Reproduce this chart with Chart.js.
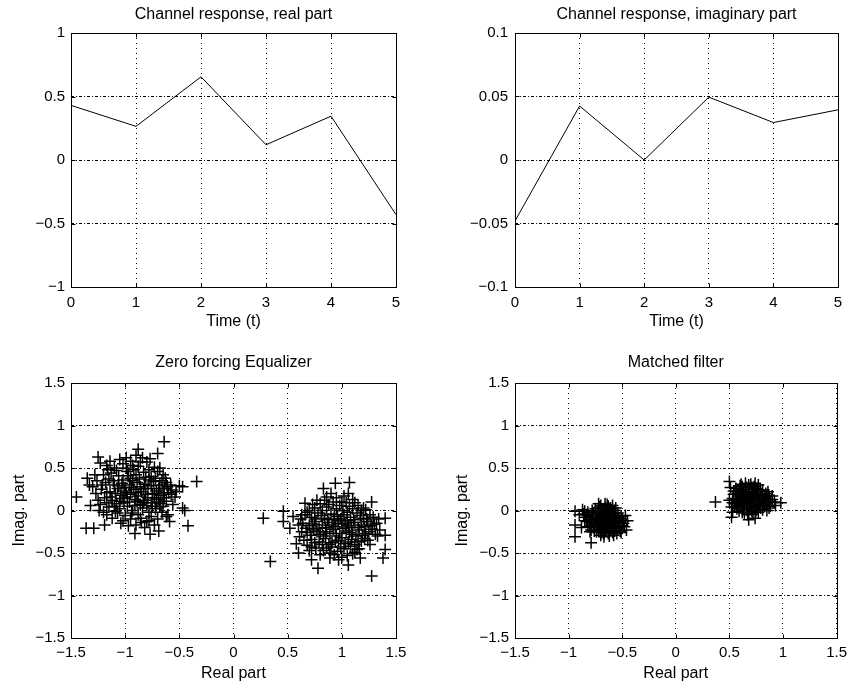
<!DOCTYPE html>
<html><head><meta charset="utf-8">
<script src="https://cdn.jsdelivr.net/npm/chart.js@4.4.1/dist/chart.umd.min.js"></script>
<style>
html,body{margin:0;padding:0;background:#fff;}
#wrap{position:relative;width:853px;height:687px;overflow:hidden;background:#fff;}
canvas{position:absolute;}
</style></head><body>
<div id="wrap">
<canvas id="c1" width="420" height="340" style="left:0px;top:0px"></canvas>
<canvas id="c2" width="433" height="340" style="left:420px;top:0px"></canvas>
<canvas id="c3" width="420" height="347" style="left:0px;top:340px"></canvas>
<canvas id="c4" width="433" height="347" style="left:420px;top:340px"></canvas>
</div>
<script>
// ---------- data ----------
const timeSteps = [0, 1, 2, 3, 4, 5];
const realPart = [0.43, 0.265, 0.655, 0.12, 0.345, -0.43];
const imagPart = [-0.048, 0.0425, 0.0, 0.0495, 0.0295, 0.0395];

const timeTicks = [0, 1, 2, 3, 4, 5];
const realTicks = [-1, -0.5, 0, 0.5, 1];
const imagTicks = [-0.1, -0.05, 0, 0.05, 0.1];
const constTicks = [-1.5, -1, -0.5, 0, 0.5, 1, 1.5];

const titles = ["Channel response, real part", "Channel response, imaginary part", "Zero forcing Equalizer", "Matched filter"];

// Zero forcing equalizer output, [real, imag]
const zfLeft = [
 [-1.02,0.55],[-0.95,0.58],[-0.88,0.52],[-1.10,0.50],[-0.80,0.57],[-1.17,0.53],[-0.92,0.48],[-0.73,0.51],[-1.05,0.60],[-0.84,0.62],[-0.99,0.50],
 [-1.13,0.44],[-1.06,0.41],[-0.98,0.46],[-0.90,0.42],[-0.83,0.45],[-0.76,0.40],[-0.70,0.46],[-1.20,0.42],[-0.95,0.38],[-0.65,0.42],[-1.02,0.36],[-0.87,0.37],
 [-1.18,0.33],[-1.10,0.30],[-1.03,0.32],[-0.96,0.30],[-0.89,0.33],[-0.82,0.31],[-0.74,0.34],[-0.68,0.30],[-0.62,0.33],[-1.26,0.35],[-1.15,0.37],[-0.78,0.36],[-0.93,0.35],[-1.00,0.27],[-0.86,0.28],
 [-1.22,0.25],[-1.14,0.22],[-1.07,0.26],[-0.99,0.21],[-0.92,0.25],[-0.85,0.22],[-0.79,0.26],[-0.71,0.23],[-0.64,0.26],[-0.60,0.21],[-1.30,0.28],[-0.95,0.19],[-1.04,0.18],[-0.88,0.17],[-0.75,0.19],[-0.67,0.18],
 [-1.19,0.15],[-1.12,0.12],[-1.02,0.14],[-0.96,0.10],[-0.91,0.13],[-0.82,0.12],[-0.76,0.09],[-0.69,0.13],[-0.62,0.11],[-1.08,0.08],[-0.86,0.07],[-0.73,0.15],[-1.25,0.12],
 [-1.15,0.04],[-1.05,0.02],[-0.98,0.05],[-0.93,0.00],[-0.84,0.03],[-0.78,-0.02],[-0.72,0.02],[-0.65,0.05],[-1.20,-0.02],[-0.88,-0.05],[-1.00,-0.06],[-0.80,0.06],
 [-0.95,-0.10],[-0.85,-0.14],[-0.70,-0.10],[-0.62,-0.07],[-1.12,-0.09],[-0.97,-0.18],[-0.82,-0.20],
 [-1.08,0.47],[-0.93,0.53],[-0.78,0.48],[-1.16,0.48],[-0.86,0.57],[-0.97,0.41],[-1.11,0.35],[-0.81,0.39],[-0.72,0.38],[-0.66,0.35],
 [-1.21,0.30],[-1.06,0.29],[-0.94,0.27],[-0.83,0.26],[-0.76,0.29],[-0.69,0.26],[-0.61,0.28],[-1.17,0.21],[-1.09,0.20],[-1.01,0.23],
 [-0.90,0.21],[-0.81,0.19],[-0.73,0.20],[-0.65,0.21],[-1.13,0.16],[-1.05,0.11],[-0.98,0.16],[-0.89,0.11],[-0.79,0.15],[-0.71,0.10],
 [-0.64,0.15],[-1.17,0.09],[-1.10,0.05],[-1.01,0.09],[-0.91,0.06],[-0.83,0.09],[-0.75,0.05],[-0.68,0.08],[-1.27,0.20],[-1.23,0.07],
 [-0.58,0.30],[-0.57,0.24],[-0.63,0.38],[-0.68,0.50],[-0.99,0.62],[-1.14,0.58],[-0.90,0.65],[-0.77,0.61],[-1.07,-0.03],[-0.94,-0.03],
 [-0.86,-0.09],[-0.76,-0.07],[-0.66,-0.02],[-1.02,-0.12],[-0.90,-0.17],[-0.78,-0.12],[-1.28,0.42],[-1.33,0.30],[-0.56,0.07],[-0.53,0.22],
 [-0.64,0.81],[-0.70,0.67],[-0.88,0.72],[-1.25,0.63],[-1.23,0.56],[-1.45,0.16],[-1.35,0.38],[-0.34,0.34],[-0.47,0.28],[-0.47,0.03],[-0.45,0.00],
 [-0.42,-0.18],[-0.59,-0.13],[-0.69,-0.24],[-0.77,-0.28],[-0.91,-0.27],[-1.36,-0.21],[-1.29,-0.21],[-1.32,0.06],[-1.24,0.00],[-1.19,-0.17],
 [-1.17,-0.05],[-1.09,-0.01],[-1.04,-0.15],[-0.80,-0.13],[-0.73,-0.17],[-0.605,-0.05],[-0.68,0.045],[-0.54,0.16],[-0.575,0.19],[-0.50,0.29]
];
const zfRight = [
 [0.80,0.08],[0.86,0.04],[0.92,0.10],[0.98,0.06],[1.04,0.09],[1.10,0.02],[0.75,0.03],[1.15,0.06],[0.70,0.00],[1.22,0.01],[0.84,0.12],[1.01,0.00],
 [0.66,-0.05],[0.72,-0.08],[0.78,-0.03],[0.84,-0.09],[0.90,-0.04],[0.96,-0.07],[1.02,-0.05],[1.08,-0.08],[1.14,-0.03],[1.20,-0.09],[1.26,-0.05],[0.62,-0.10],[0.93,-0.10],[1.05,-0.12],
 [0.64,-0.15],[0.70,-0.18],[0.76,-0.13],[0.82,-0.17],[0.88,-0.14],[0.94,-0.19],[1.00,-0.15],[1.06,-0.18],[1.12,-0.14],[1.18,-0.17],[1.24,-0.13],[1.30,-0.16],[0.97,-0.12],[1.09,-0.20],[0.85,-0.20],
 [0.68,-0.26],[0.74,-0.23],[0.80,-0.28],[0.86,-0.25],[0.92,-0.22],[0.98,-0.27],[1.04,-0.24],[1.10,-0.28],[1.16,-0.23],[1.22,-0.27],[1.28,-0.22],[0.95,-0.30],[1.01,-0.21],[1.13,-0.30],
 [0.72,-0.34],[0.79,-0.37],[0.85,-0.33],[0.91,-0.38],[0.97,-0.35],[1.03,-0.39],[1.09,-0.34],[1.15,-0.37],[1.21,-0.33],[0.88,-0.40],[1.00,-0.32],
 [0.76,-0.44],[0.83,-0.47],[0.90,-0.43],[0.96,-0.48],[1.02,-0.45],[1.08,-0.42],[1.12,-0.49],[0.68,-0.41],[0.93,-0.52],[1.05,-0.53],
 [0.82,0.00],[0.88,0.07],[0.95,0.02],[1.00,0.10],[1.07,0.05],[1.12,0.09],[1.18,0.00],[0.73,0.07],[0.68,-0.02],[0.75,-0.10],
 [0.81,-0.06],[0.87,-0.11],[0.93,-0.05],[0.99,-0.10],[1.05,-0.02],[1.11,-0.11],[1.17,-0.06],[1.23,-0.10],[1.29,-0.08],[0.67,-0.21],
 [0.73,-0.16],[0.79,-0.21],[0.91,-0.17],[1.03,-0.16],[1.15,-0.20],[1.21,-0.19],[1.27,-0.18],[0.71,-0.29],[0.77,-0.25],[0.83,-0.30],
 [0.89,-0.27],[1.07,-0.26],[1.19,-0.29],[1.25,-0.25],[1.31,-0.28],[0.75,-0.38],[0.82,-0.40],[0.94,-0.36],[1.06,-0.37],[1.12,-0.40],
 [1.18,-0.36],[0.70,-0.47],[0.86,-0.44],[0.99,-0.43],[1.10,-0.51],[1.16,-0.45],[0.80,-0.52],[0.89,-0.56],[1.00,-0.55],[0.63,-0.25],
 [0.65,-0.35],[0.60,-0.17],[0.63,-0.05],[1.34,-0.10],[1.33,-0.30],[1.26,-0.40],[0.95,0.15],[1.10,0.13],[0.90,0.20],[1.02,0.17],
 [0.275,-0.09],[0.34,-0.60],[0.46,-0.01],[0.46,-0.13],[0.94,0.32],[1.07,0.33],[0.83,0.26],[1.06,0.20],[1.275,0.10],[1.40,-0.09],[1.40,-0.29],
 [1.40,-0.46],[1.38,-0.56],[1.275,-0.77],[0.78,-0.68],[0.72,-0.58],[1.06,-0.64],[1.17,-0.56],[0.60,-0.50],[0.58,-0.39],[0.61,-0.31],[0.52,-0.21],
 [0.55,-0.07],[0.66,0.085],[0.77,0.12],[0.86,0.16],[1.20,0.03],[1.32,-0.15],[1.35,-0.23],[1.24,-0.35],[1.14,-0.46],[0.89,-0.50],[0.97,-0.58],[0.72,-0.43]
];

// Matched filter output, [real, imag]
const mfLeft = [
 [-0.66,-0.11],[-0.70,-0.08],[-0.62,-0.14],[-0.74,-0.12],[-0.58,-0.09],[-0.68,-0.02],[-0.64,-0.19],[-0.72,-0.17],[-0.60,-0.04],[-0.55,-0.13],
 [-0.78,-0.06],[-0.66,0.03],[-0.70,-0.22],[-0.61,-0.23],[-0.53,-0.18],[-0.76,-0.15],[-0.80,-0.11],[-0.57,0.00],[-0.63,0.05],[-0.71,0.04],
 [-0.50,-0.10],[-0.49,-0.15],[-0.82,-0.02],[-0.84,-0.08],[-0.67,-0.27],[-0.74,-0.25],[-0.59,-0.26],[-0.52,-0.24],[-0.65,-0.06],[-0.69,-0.13],
 [-0.63,-0.10],[-0.73,-0.03],[-0.56,-0.20],[-0.77,-0.20],[-0.61,0.01],[-0.68,-0.18],[-0.71,-0.09],[-0.64,-0.15],[-0.58,-0.16],[-0.75,0.02],
 [-0.80,-0.17],[-0.86,-0.04],[-0.87,0.01],[-0.47,-0.06],[-0.48,-0.19],[-0.54,-0.03],[-0.62,-0.30],[-0.70,-0.29],[-0.66,0.08],[-0.59,0.06],
 [-0.72,0.08],[-0.83,-0.13],[-0.79,-0.23],[-0.55,-0.27],[-0.51,-0.07],[-0.90,-0.05],[-0.94,-0.01],[-0.94,-0.17],[-0.94,-0.31],[-0.79,-0.38],
 [-0.88,-0.20],[-0.45,-0.12],[-0.46,-0.23],[-0.65,-0.21],[-0.60,-0.12],[-0.67,-0.08],
 [-0.69,-0.05],[-0.63,-0.07],[-0.57,-0.12],[-0.75,-0.09],[-0.71,-0.15],[-0.67,-0.16],[-0.61,-0.18],[-0.56,-0.06],[-0.73,-0.20],[-0.65,-0.24],
 [-0.59,-0.21],[-0.77,-0.03],[-0.81,-0.08],[-0.62,-0.01],[-0.67,0.01],[-0.72,-0.01],[-0.53,-0.09],[-0.52,-0.14],[-0.54,-0.21],[-0.68,-0.22],
 [-0.74,-0.18],[-0.79,-0.14],[-0.60,-0.08],[-0.64,-0.13],[-0.70,-0.11],[-0.58,-0.03],[-0.76,-0.24],[-0.63,-0.27],[-0.57,-0.24],[-0.69,-0.26],
 [-0.82,-0.19],[-0.85,-0.12],[-0.50,-0.18],[-0.49,-0.12],[-0.66,-0.04],[-0.61,0.03],[-0.70,0.06],[-0.64,0.07],[-0.78,0.00],[-0.56,0.03],
 [-0.73,-0.06],[-0.60,-0.15],[-0.66,-0.19],[-0.72,-0.24],[-0.58,-0.29],[-0.67,-0.31],[-0.51,-0.26],[-0.83,-0.05],[-0.80,-0.25],[-0.85,-0.01]
];
const mfRight = [
 [0.68,0.12],[0.64,0.15],[0.72,0.09],[0.60,0.10],[0.76,0.14],[0.66,0.20],[0.70,0.04],[0.62,0.05],[0.78,0.06],[0.74,0.21],
 [0.58,0.17],[0.82,0.11],[0.69,0.25],[0.63,0.24],[0.55,0.08],[0.57,0.22],[0.80,0.19],[0.85,0.08],[0.73,0.28],[0.66,0.01],
 [0.75,0.00],[0.61,0.13],[0.71,0.16],[0.67,0.09],[0.79,0.24],[0.84,0.16],[0.88,0.10],[0.53,0.14],[0.52,0.04],[0.56,0.26],
 [0.60,0.29],[0.70,0.31],[0.77,0.30],[0.87,0.03],[0.81,0.01],[0.64,-0.03],[0.72,-0.04],[0.59,-0.01],[0.90,0.13],[0.86,0.22],
 [0.65,0.32],[0.74,0.12],[0.63,0.19],[0.69,0.07],[0.77,0.18],[0.58,0.11],[0.83,0.05],[0.54,0.19],[0.50,0.12],[0.51,0.27],
 [0.50,0.34],[0.37,0.10],[0.98,0.09],[0.93,0.06],[0.53,-0.02],[0.52,-0.08],[0.68,-0.11],[0.74,-0.09],[0.62,0.07],[0.71,0.22],
 [0.66,0.11],[0.70,0.14],[0.74,0.07],[0.62,0.12],[0.78,0.12],[0.64,0.08],[0.68,0.18],[0.72,0.19],[0.60,0.19],[0.76,0.23],
 [0.80,0.16],[0.82,0.07],[0.58,0.06],[0.56,0.13],[0.86,0.13],[0.84,0.20],[0.66,0.27],[0.71,0.27],[0.62,0.28],[0.75,0.26],
 [0.79,0.03],[0.69,0.02],[0.63,0.02],[0.73,0.03],[0.57,0.02],[0.88,0.05],[0.90,0.17],[0.54,0.23],[0.55,0.04],[0.67,0.14],
 [0.73,0.16],[0.61,0.16],[0.78,0.09],[0.65,0.22],[0.81,0.24],[0.59,0.24],[0.70,0.10],[0.76,0.05],[0.83,0.14],[0.87,0.18],
 [0.68,0.30],[0.74,0.32],[0.61,0.31],[0.53,0.09],[0.92,0.10],[0.67,-0.05],[0.62,-0.02],[0.77,-0.02],[0.85,0.00],[0.71,-0.01]
];

// ---------- helpers ----------
const FONT = "'Liberation Sans', Arial, Helvetica, sans-serif";
const fmt = v => (Math.abs(v) < 1e-12 ? "0" : String(v).replace("-", "\u2212"));

const framePlugin = {
  id: "frame",
  afterDraw(chart) {
    const { ctx, chartArea: a, scales } = chart;
    const x = scales.x, y = scales.y;
    ctx.save();
    ctx.strokeStyle = "#000";
    ctx.lineWidth = 1;
    ctx.setLineDash([]);
    const l = Math.round(a.left) + 0.5, r = Math.round(a.right) + 0.5;
    const t = Math.round(a.top) + 0.5, b = Math.round(a.bottom) + 0.5;
    ctx.strokeRect(l, t, r - l, b - t);
    const L = 4;
    ctx.beginPath();
    x.ticks.forEach(tk => {
      const p = Math.round(x.getPixelForValue(tk.value)) + 0.5;
      ctx.moveTo(p, b); ctx.lineTo(p, b - L);
      ctx.moveTo(p, t); ctx.lineTo(p, t + L);
    });
    y.ticks.forEach(tk => {
      const p = Math.round(y.getPixelForValue(tk.value)) + 0.5;
      ctx.moveTo(l, p); ctx.lineTo(l + L, p);
      ctx.moveTo(r, p); ctx.lineTo(r - L, p);
    });
    ctx.stroke();
    ctx.restore();
  }
};

function makeChart(id, o) {
  const ctx = document.getElementById(id);
  return new Chart(ctx, {
    type: "scatter",
    data: { datasets: o.datasets },
    plugins: [framePlugin],
    options: {
      responsive: false,
      animation: false,
      devicePixelRatio: 1,
      layout: { padding: { left: 0, right: o.padRight, top: 0, bottom: 0 } },
      plugins: {
        legend: { display: false },
        tooltip: { enabled: false },
        title: {
          display: true, text: o.title, color: "#000", fullSize: false,
          font: { family: FONT, size: 16, weight: "normal", lineHeight: 1.2 },
          padding: { top: o.titleTop, bottom: o.titleBottom }
        }
      },
      scales: {
        x: {
          type: "linear", position: "bottom",
          min: o.xTicks[0], max: o.xTicks[o.xTicks.length - 1],
          afterBuildTicks: s => { s.ticks = o.xTicks.map(v => ({ value: v })); },
          afterFit: s => { s.height = o.xAxisH; },
          ticks: { color: "#000", padding: o.xTickPad, maxRotation: 0, autoSkip: false,
                   font: { family: FONT, size: 15 }, callback: v => fmt(v) },
          grid: { color: "#000", lineWidth: 1, drawTicks: false },
          border: { display: false, dash: [1, 4] },
          title: { display: !!o.xLabel, text: o.xLabel, color: "#000",
                   font: { family: FONT, size: 16, lineHeight: 1.2 },
                   padding: { top: 0, bottom: o.xLabelBottom } }
        },
        y: {
          type: "linear", position: "left",
          min: o.yTicks[0], max: o.yTicks[o.yTicks.length - 1],
          afterBuildTicks: s => { s.ticks = o.yTicks.map(v => ({ value: v })); },
          afterFit: s => { s.width = o.yAxisW; },
          ticks: { color: "#000", padding: o.yTickPad, autoSkip: false,
                   font: { family: FONT, size: 15 }, callback: v => fmt(v) },
          grid: { color: "#000", lineWidth: 1, drawTicks: false },
          border: { display: false, dash: [3, 2, 1, 2] },
          title: { display: !!o.yLabel, text: o.yLabel, color: "#000",
                   font: { family: FONT, size: 16, lineHeight: 1.2 },
                   padding: { top: o.yLabelPad || 0, bottom: 0 } }
        }
      }
    }
  });
}

const lineDs = (xs, ys) => [{
  data: xs.map((t, i) => ({ x: t, y: ys[i] })),
  showLine: true, borderColor: "#000", borderWidth: 1, pointRadius: 0, tension: 0, fill: false
}];
const crossDs = pts => ({
  data: pts.map(p => ({ x: p[0], y: p[1] })),
  pointStyle: "cross", pointRadius: 6, pointBorderWidth: 1.5,
  borderColor: "#000", backgroundColor: "#000", showLine: false
});

makeChart("c1", {
  datasets: lineDs(timeSteps, realPart), title: titles[0], titleTop: 5, titleBottom: 8.8,
  padRight: 24, yAxisW: 71, xAxisH: 53, xTicks: timeTicks, yTicks: realTicks,
  xTickPad: 7, yTickPad: 6, xLabel: "Time (t)", xLabelBottom: 8.4, yLabel: ""
});
makeChart("c2", {
  datasets: lineDs(timeSteps, imagPart), title: titles[1], titleTop: 5, titleBottom: 8.8,
  padRight: 15, yAxisW: 95, xAxisH: 53, xTicks: timeTicks, yTicks: imagTicks,
  xTickPad: 7, yTickPad: 7, xLabel: "Time (t)", xLabelBottom: 8.4, yLabel: ""
});
makeChart("c3", {
  datasets: [crossDs(zfLeft), crossDs(zfRight)], title: titles[2], titleTop: 13.4, titleBottom: 10.4,
  padRight: 24, yAxisW: 71, xAxisH: 49, xTicks: constTicks, yTicks: constTicks,
  xTickPad: 6, yTickPad: 6, xLabel: "Real part", xLabelBottom: 3.9, yLabel: "Imag. part", yLabelPad: 10.4
});
makeChart("c4", {
  datasets: [crossDs(mfLeft), crossDs(mfRight)], title: titles[3], titleTop: 13.4, titleBottom: 10.4,
  padRight: 15, yAxisW: 95, xAxisH: 49, xTicks: constTicks, yTicks: constTicks,
  xTickPad: 6, yTickPad: 6, xLabel: "Real part", xLabelBottom: 3.9, yLabel: "Imag. part", yLabelPad: 33.4
});
</script>
</body></html>
